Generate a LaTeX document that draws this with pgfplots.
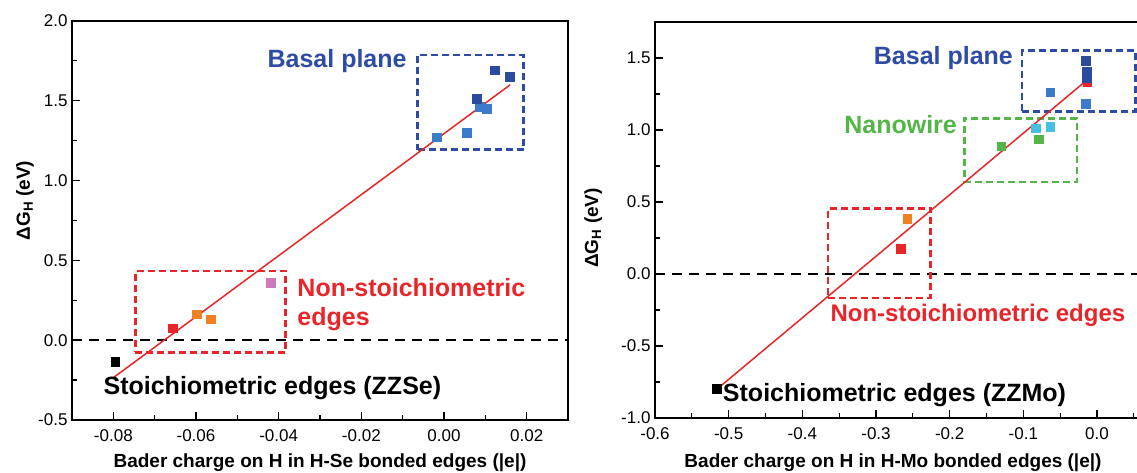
\documentclass[border=0pt]{standalone}
\usepackage{fontspec}
\setmainfont{Liberation Sans}
\usepackage{pgfplots}
\pgfplotsset{compat=1.18}

\definecolor{dblue}{RGB}{44,74,158}
\definecolor{mblue}{RGB}{60,122,202}
\definecolor{bred}{RGB}{232,38,42}
\definecolor{borange}{RGB}{240,128,34}
\definecolor{bpink}{RGB}{204,122,190}
\definecolor{bgreen}{RGB}{84,182,72}
\definecolor{bcyan}{RGB}{70,192,222}
\definecolor{tblue}{RGB}{46,76,166}

\pgfplotsset{
  myax/.style={
    scale only axis,
    scaled x ticks=false, scaled y ticks=false,
    axis line style={line width=1.4pt, black},
    every tick/.style={line width=1.2pt, black},
    tick align=inside, xtick pos=bottom, ytick pos=left,
    major tick length=8pt, minor tick length=5pt,
    tick label style={font=\fontsize{17}{20}\selectfont},
    label style={font=\fontsize{19}{22}\selectfont\bfseries},
    xticklabel style={yshift=-6pt},
    yticklabel style={xshift=-1pt},
  },
  pt/.style={only marks, color=#1, mark=square*, mark size=4.3pt, mark options={solid, draw=#1, fill=#1, line width=0pt}},
  zl/.style={black, line width=1.6pt, dash pattern=on 10pt off 7pt},
  bx/.style={#1, line width=2.6pt, dash pattern=on 7pt off 4pt, line join=miter, line cap=butt},
}
\tikzset{an/.style={font=\fontsize{25}{29}\selectfont\bfseries, inner sep=0pt}}

\begin{document}
\begin{tikzpicture}
% ---------------- left panel ----------------
\begin{axis}[myax,
  at={(72pt,53pt)}, anchor=south west,
  width=496pt, height=399pt,
  xmin=-0.09, xmax=0.03, ymin=-0.5, ymax=2.0,
  xtick={-0.08,-0.06,-0.04,-0.02,0,0.02},
  xticklabels={-0.08,-0.06,-0.04,-0.02,0.00,0.02},
  minor xtick={-0.07,-0.05,-0.03,-0.01,0.01},
  ytick={-0.5,0,0.5,1,1.5,2},
  yticklabels={-0.5,0.0,0.5,1.0,1.5,2.0},
  minor ytick={-0.25,0.25,0.75,1.25,1.75},
  xlabel={Bader charge on H in H-Se bonded edges (|e|)},
  ylabel={ΔG\textsubscript{H} (eV)},
  xlabel style={at={(axis description cs:0.5,-0.106)}, anchor=center},
  ylabel style={at={(axis description cs:-0.095,0.55)}, anchor=center},
]
\addplot[zl] coordinates {(-0.09,0) (0.03,0)};
\addplot[bx=tblue] coordinates {(-0.0064,1.194) (0.0193,1.194) (0.0193,1.786) (-0.0064,1.786) (-0.0064,1.194)};
\addplot[bx=bred] coordinates {(-0.0747,-0.077) (-0.0383,-0.077) (-0.0383,0.433) (-0.0747,0.433) (-0.0747,-0.077)};
\addplot[pt=black] coordinates {(-0.0795,-0.136)};
\addplot[pt=bred] coordinates {(-0.0656,0.073)};
\addplot[pt=borange] coordinates {(-0.0598,0.162) (-0.0564,0.130)};
\addplot[pt=bpink] coordinates {(-0.0418,0.358)};
\addplot[pt=mblue] coordinates {(-0.0017,1.27) (0.0056,1.30) (0.0087,1.46) (0.0104,1.45)};
\addplot[pt=dblue] coordinates {(0.0080,1.51) (0.0123,1.69) (0.0159,1.65)};
\addplot[bred, line width=1.5pt] coordinates {(-0.0800,-0.235) (0.0160,1.600)};
\node[an, text=tblue, anchor=east] at (axis cs:-0.0090,1.75) {Basal plane};
\node[an, text=bred, anchor=west, align=left] at (axis cs:-0.0355,0.22) {Non-stoichiometric\\edges};
\node[an, text=black, anchor=west] at (axis cs:-0.0824,-0.30) {Stoichiometric edges (ZZSe)};
\end{axis}

% ---------------- right panel ----------------
\begin{axis}[myax,
  at={(655pt,55pt)}, anchor=south west,
  width=515.7pt, height=396pt,
  xmin=-0.6, xmax=0.1, ymin=-1.0, ymax=1.75,
  xtick={-0.6,-0.5,-0.4,-0.3,-0.2,-0.1,0},
  xticklabels={-0.6,-0.5,-0.4,-0.3,-0.2,-0.1,0.0},
  minor xtick={-0.55,-0.45,-0.35,-0.25,-0.15,-0.05,0.05},
  ytick={-1,-0.5,0,0.5,1,1.5},
  yticklabels={-1.0,-0.5,0.0,0.5,1.0,1.5},
  minor ytick={-0.75,-0.25,0.25,0.75,1.25},
  xlabel={Bader charge on H in H-Mo bonded edges (|e|)},
  ylabel={ΔG\textsubscript{H} (eV)},
  xlabel style={at={(axis description cs:0.4615,-0.114)}, anchor=center},
  ylabel style={at={(axis description cs:-0.12,0.48)}, anchor=center},
]
\addplot[zl] coordinates {(-0.6,0) (0.1,0)};
\addplot[bx=tblue] coordinates {(-0.102,1.127) (0.052,1.127) (0.052,1.551) (-0.102,1.551) (-0.102,1.127)};
\addplot[bx=bgreen] coordinates {(-0.180,0.64) (-0.027,0.64) (-0.027,1.081) (-0.180,1.081) (-0.180,0.64)};
\addplot[bx=bred] coordinates {(-0.365,-0.167) (-0.226,-0.167) (-0.226,0.456) (-0.365,0.456) (-0.365,-0.167)};
\addplot[pt=black] coordinates {(-0.516,-0.80)};
\addplot[pt=bred] coordinates {(-0.266,0.174) (-0.013,1.33)};
\addplot[pt=borange] coordinates {(-0.2575,0.382)};
\addplot[pt=bgreen] coordinates {(-0.1295,0.884) (-0.079,0.935)};
\addplot[pt=bcyan] coordinates {(-0.083,1.01) (-0.063,1.02)};
\addplot[pt=mblue] coordinates {(-0.063,1.26) (-0.015,1.18)};
\addplot[pt=dblue] coordinates {(-0.015,1.48) (-0.014,1.405) (-0.014,1.36)};
\addplot[bred, line width=1.5pt] coordinates {(-0.516,-0.80) (-0.0136,1.347)};
\node[an, text=tblue, anchor=east] at (axis cs:-0.114,1.50) {Basal plane};
\node[an, text=bgreen, anchor=east] at (axis cs:-0.19,1.035) {Nanowire};
\node[an, text=bred, anchor=west, font=\fontsize{24}{28}\selectfont\bfseries] at (axis cs:-0.362,-0.285) {Non-stoichiometric edges};
\node[an, text=black, anchor=west] at (axis cs:-0.508,-0.84) {Stoichiometric edges (ZZMo)};
\end{axis}
\pgfresetboundingbox
\useasboundingbox (0,0) rectangle (1137pt,473pt);
\end{tikzpicture}
\end{document}
